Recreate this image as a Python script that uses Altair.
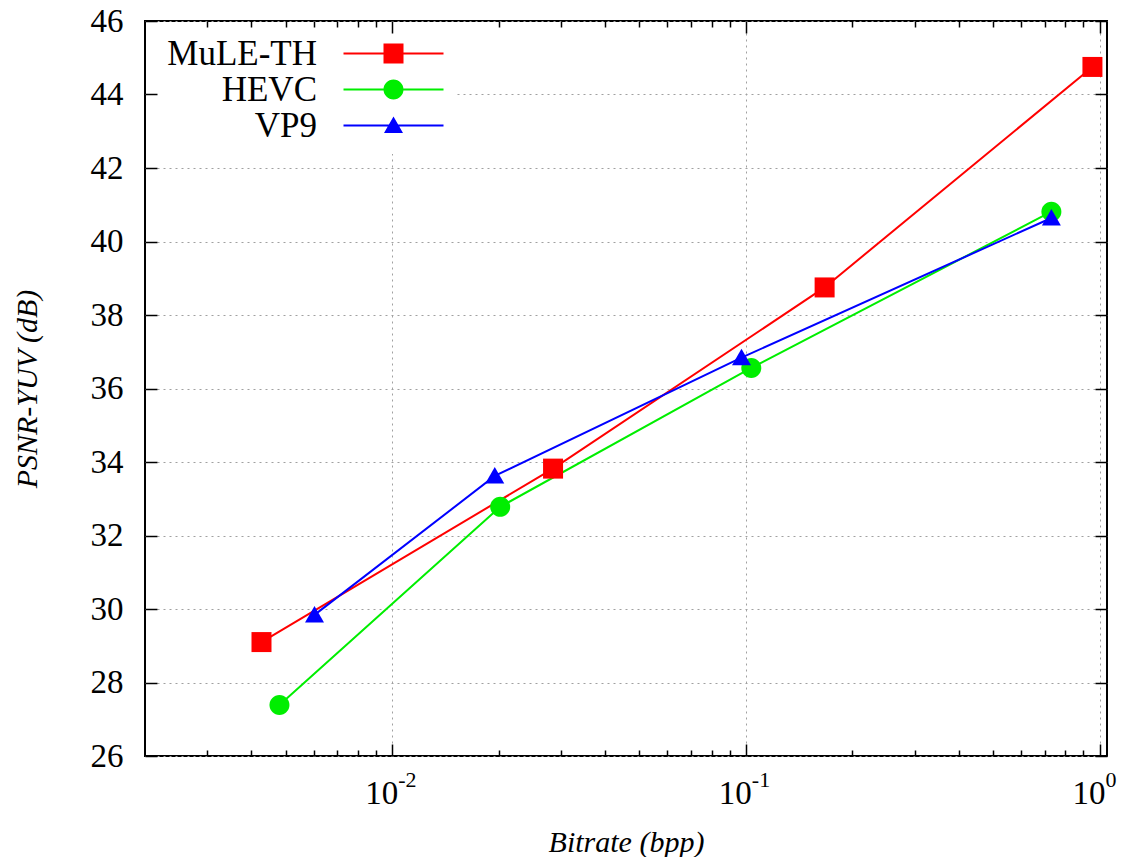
import altair as alt
import pandas as pd

# ---- data ----
series = ["MuLE-TH", "HEVC", "VP9"]
colors = ["#ff0000", "#00ee00", "#0000ff"]

mule_bitrate = [0.00427, 0.0285, 0.167, 0.955]
mule_psnr = [29.10, 33.82, 38.75, 44.75]
hevc_bitrate = [0.0048, 0.0202, 0.1036, 0.731]
hevc_psnr = [27.39, 32.78, 36.56, 40.81]
vp9_bitrate = [0.00603, 0.0195, 0.0972, 0.731]
vp9_psnr = [29.84, 33.62, 36.84, 40.64]

x_domain = [0.002, 1.05]
y_domain = [26, 46]
y_ticks = [26, 28, 30, 32, 34, 36, 38, 40, 42, 44, 46]
x_major = [0.01, 0.1, 1.0]
x_exponents = ["-2", "-1", "0"]
x_minor = [0.003, 0.004, 0.005, 0.006, 0.007, 0.008, 0.009,
           0.02, 0.03, 0.04, 0.05, 0.06, 0.07, 0.08, 0.09,
           0.2, 0.3, 0.4, 0.5, 0.6, 0.7, 0.8, 0.9]

# marker shapes (unit coords) and legend samples (line + marker)
marker_paths = [
    "M-1,-1H1V1H-1Z",
    "M-1,0A1,1,0,1,1,1,0A1,1,0,1,1,-1,0Z",
    "M0,-0.9L0.95,0.75H-0.95Z",
]
line_path = "M-5,-0.1H5V0.1H-5Z "
legend_paths = [line_path + p for p in marker_paths]

rows = []
for name, xs, ys in [("MuLE-TH", mule_bitrate, mule_psnr),
                     ("HEVC", hevc_bitrate, hevc_psnr),
                     ("VP9", vp9_bitrate, vp9_psnr)]:
    for xv, yv in zip(xs, ys):
        rows.append({"series": name, "bitrate": xv, "psnr": yv})
df = pd.DataFrame(rows)

exp_df = pd.DataFrame({"bitrate": x_major, "psnr": [y_domain[0]] * len(x_major),
                       "label": x_exponents})

W, H = 962, 735
SERIF = "Liberation Serif"
major_test = "abs(log(datum.value)/LN10 - round(log(datum.value)/LN10)) < 0.001"

xscale = alt.Scale(type="log", domain=x_domain, nice=False)
yscale = alt.Scale(domain=y_domain, nice=False, zero=False)
cscale = alt.Scale(domain=series, range=colors)

# Layer 1: lines + labelled axes with grid
lines = alt.Chart(df).mark_line(strokeWidth=2).encode(
    x=alt.X("bitrate:Q", scale=xscale, axis=alt.Axis(
        orient="bottom", values=x_major, labelExpr="'10'", ticks=False, domain=False,
        grid=True, gridDash=[2, 4], gridColor="#a0a0a0", gridWidth=1,
        labelFont=SERIF, labelFontSize=33, labelColor="black", labelOffset={"expr": "-11"},
        labelPadding=21, title="Bitrate (bpp)", titleFont=SERIF, titleFontStyle="italic",
        titleFontWeight="normal", titleFontSize=30, titleColor="black", titlePadding=17)),
    y=alt.Y("psnr:Q", scale=yscale, axis=alt.Axis(
        orient="left", values=y_ticks, ticks=False, domain=False,
        grid=True, gridDash=[2, 4], gridColor="#a0a0a0", gridWidth=1,
        labelFont=SERIF, labelFontSize=33, labelColor="black", labelPadding=22,
        title="PSNR-YUV (dB)", titleFont=SERIF, titleFontStyle="italic",
        titleFontWeight="normal", titleFontSize=30, titleColor="black", titlePadding=48)),
    color=alt.Color("series:N", scale=cscale, legend=None),
    detail="series:N",
)

tick_size_cond = {"condition": {"test": major_test, "value": 12}, "value": 6}

# Layer 2: markers + inward ticks on bottom and left edges
points = alt.Chart(df).mark_point(filled=True, size=400, opacity=1).encode(
    x=alt.X("bitrate:Q", scale=xscale, axis=alt.Axis(
        orient="top", offset=-H, values=x_major + x_minor, labels=False, domain=False,
        grid=False, ticks=True, tickSize=tick_size_cond, tickColor="black",
        tickWidth=1.5, title=None, zindex=1)),
    y=alt.Y("psnr:Q", scale=yscale, axis=alt.Axis(
        orient="right", offset=-W, values=y_ticks, labels=False, domain=False,
        grid=False, ticks=True, tickSize=12, tickColor="black", tickWidth=1.5,
        title=None, zindex=1)),
    color=alt.Color("series:N", scale=cscale, legend=None),
    shape=alt.Shape("series:N", scale=alt.Scale(domain=series, range=marker_paths), legend=None),
)

# Layer 3: exponents of the x tick labels + inward ticks on top and right edges
exps = alt.Chart(exp_df).mark_text(
    align="left", baseline="alphabetic", dx=6, dy=31, fontSize=22, font=SERIF, color="black"
).encode(
    x=alt.X("bitrate:Q", scale=xscale, axis=alt.Axis(
        orient="bottom", offset=-H, values=x_major + x_minor, labels=False, domain=False,
        grid=False, ticks=True, tickSize=tick_size_cond, tickColor="black",
        tickWidth=1.5, title=None, zindex=1)),
    y=alt.Y("psnr:Q", scale=yscale, axis=alt.Axis(
        orient="left", offset=-W, values=y_ticks, labels=False, domain=False,
        grid=False, ticks=True, tickSize=12, tickColor="black", tickWidth=1.5,
        title=None, zindex=1)),
    text="label:N",
)

legend_def = alt.Legend(
    orient="none", legendX=8, legendY=5, title=None, padding=10,
    labelAlign="right", labelOffset={"expr": "-94"}, symbolOffset=213,
    labelFont=SERIF, labelFontSize=35,
    labelColor="black", labelLimit=0, symbolSize=400, symbolStrokeWidth=0,
    rowPadding=0, fillColor="white",
)

# Layer 4: legend only (no data drawn)
legend_layer = alt.Chart(df).transform_filter("datum.psnr < 0").mark_point(
    filled=True, size=400, opacity=1
).encode(
    color=alt.Color("series:N", scale=cscale, legend=legend_def),
    shape=alt.Shape("series:N", scale=alt.Scale(domain=series, range=legend_paths),
                    legend=legend_def),
)

chart = alt.layer(lines, points, exps, legend_layer).resolve_axis(
    x="independent", y="independent"
).resolve_scale(
    shape="independent", color="independent"
).properties(
    width=W, height=H,
    autosize=alt.AutoSizeParams(type="none"),
    padding={"left": 137, "top": 13, "right": 13, "bottom": 101},
    background="white",
).configure_view(stroke="black", strokeWidth=2)

chart.save("out.html", embed_options={"renderer": "svg", "actions": False})
